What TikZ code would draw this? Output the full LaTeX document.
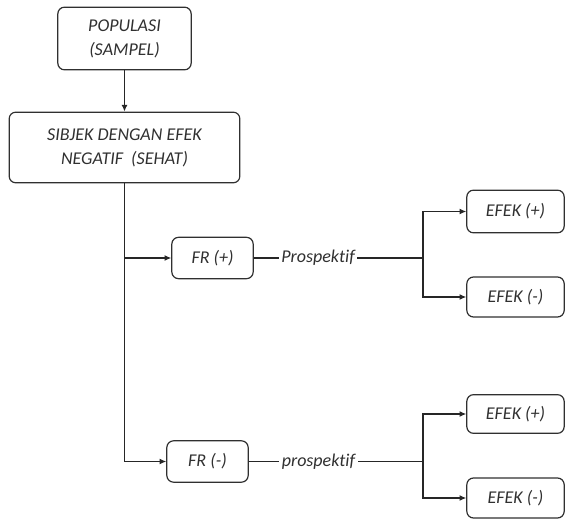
\documentclass[tikz,border=0pt]{standalone}
\usepackage{fontspec}
\setmainfont{Carlito}[Ligatures=NoCommon]
\usetikzlibrary{arrows.meta}
\definecolor{ink}{HTML}{303030}
\tikzset{
  box/.style={draw=ink, line width=0.9pt, rounded corners=5pt, align=center,
    inner sep=0pt, text=ink, font=\fontsize{13.5}{18}\selectfont\itshape},
  link/.style={draw=black!85, line width=0.9pt},
  arr/.style={link, -{Latex[length=5pt,width=4.5pt]}},
  lbl/.style={fill=white, inner sep=2pt, text=ink, font=\fontsize{13.5}{16}\selectfont\itshape}
}
\begin{document}
\begin{tikzpicture}[x=0.75pt,y=-0.75pt]
\useasboundingbox (0,0) rectangle (567,523);

% top of the scheme
\node[box, minimum width=100pt, minimum height=47pt] (pop) at (124.5,38.5) {POPULASI\\(SAMPEL)};
\node[box, minimum width=173pt, minimum height=53pt] (sub) at (124.5,147.5) {SIBJEK DENGAN EFEK\\NEGATIF\ \ (SEHAT)};

% risk factor groups
\node[box, minimum width=61pt, minimum height=31pt] (frp) at (212.5,258) {FR (+)};
\node[box, minimum width=61pt, minimum height=31pt] (frm) at (207.5,461.5) {FR (-)};

% outcomes
\node[box, minimum width=73pt, minimum height=32pt] (e1) at (515.5,211.5) {EFEK (+)};
\node[box, minimum width=73pt, minimum height=30pt] (e2) at (515.5,297) {EFEK (-)};
\node[box, minimum width=73pt, minimum height=29pt] (e3) at (515.5,414) {EFEK (+)};
\node[box, minimum width=73pt, minimum height=30pt] (e4) at (515.5,498) {EFEK (-)};

% branch points
\coordinate (jt) at (423,258);
\coordinate (jb) at (423,461.5);

\draw[arr] (pop.south) -- (sub.north);
\draw[arr] (sub.south) |- (frm.west);
\draw[arr] (sub.south |- frp.west) -- (frp.west);

\draw[link] (frp.east) -- node[lbl, pos=0.38] {Prospektif} (jt);
\draw[link] (frm.east) -- node[lbl, pos=0.40] {prospektif} (jb);

\draw[arr] (jt) |- (e1.west);
\draw[arr] (jt) |- (e2.west);
\draw[arr] (jb) |- (e3.west);
\draw[arr] (jb) |- (e4.west);
\end{tikzpicture}
\end{document}
